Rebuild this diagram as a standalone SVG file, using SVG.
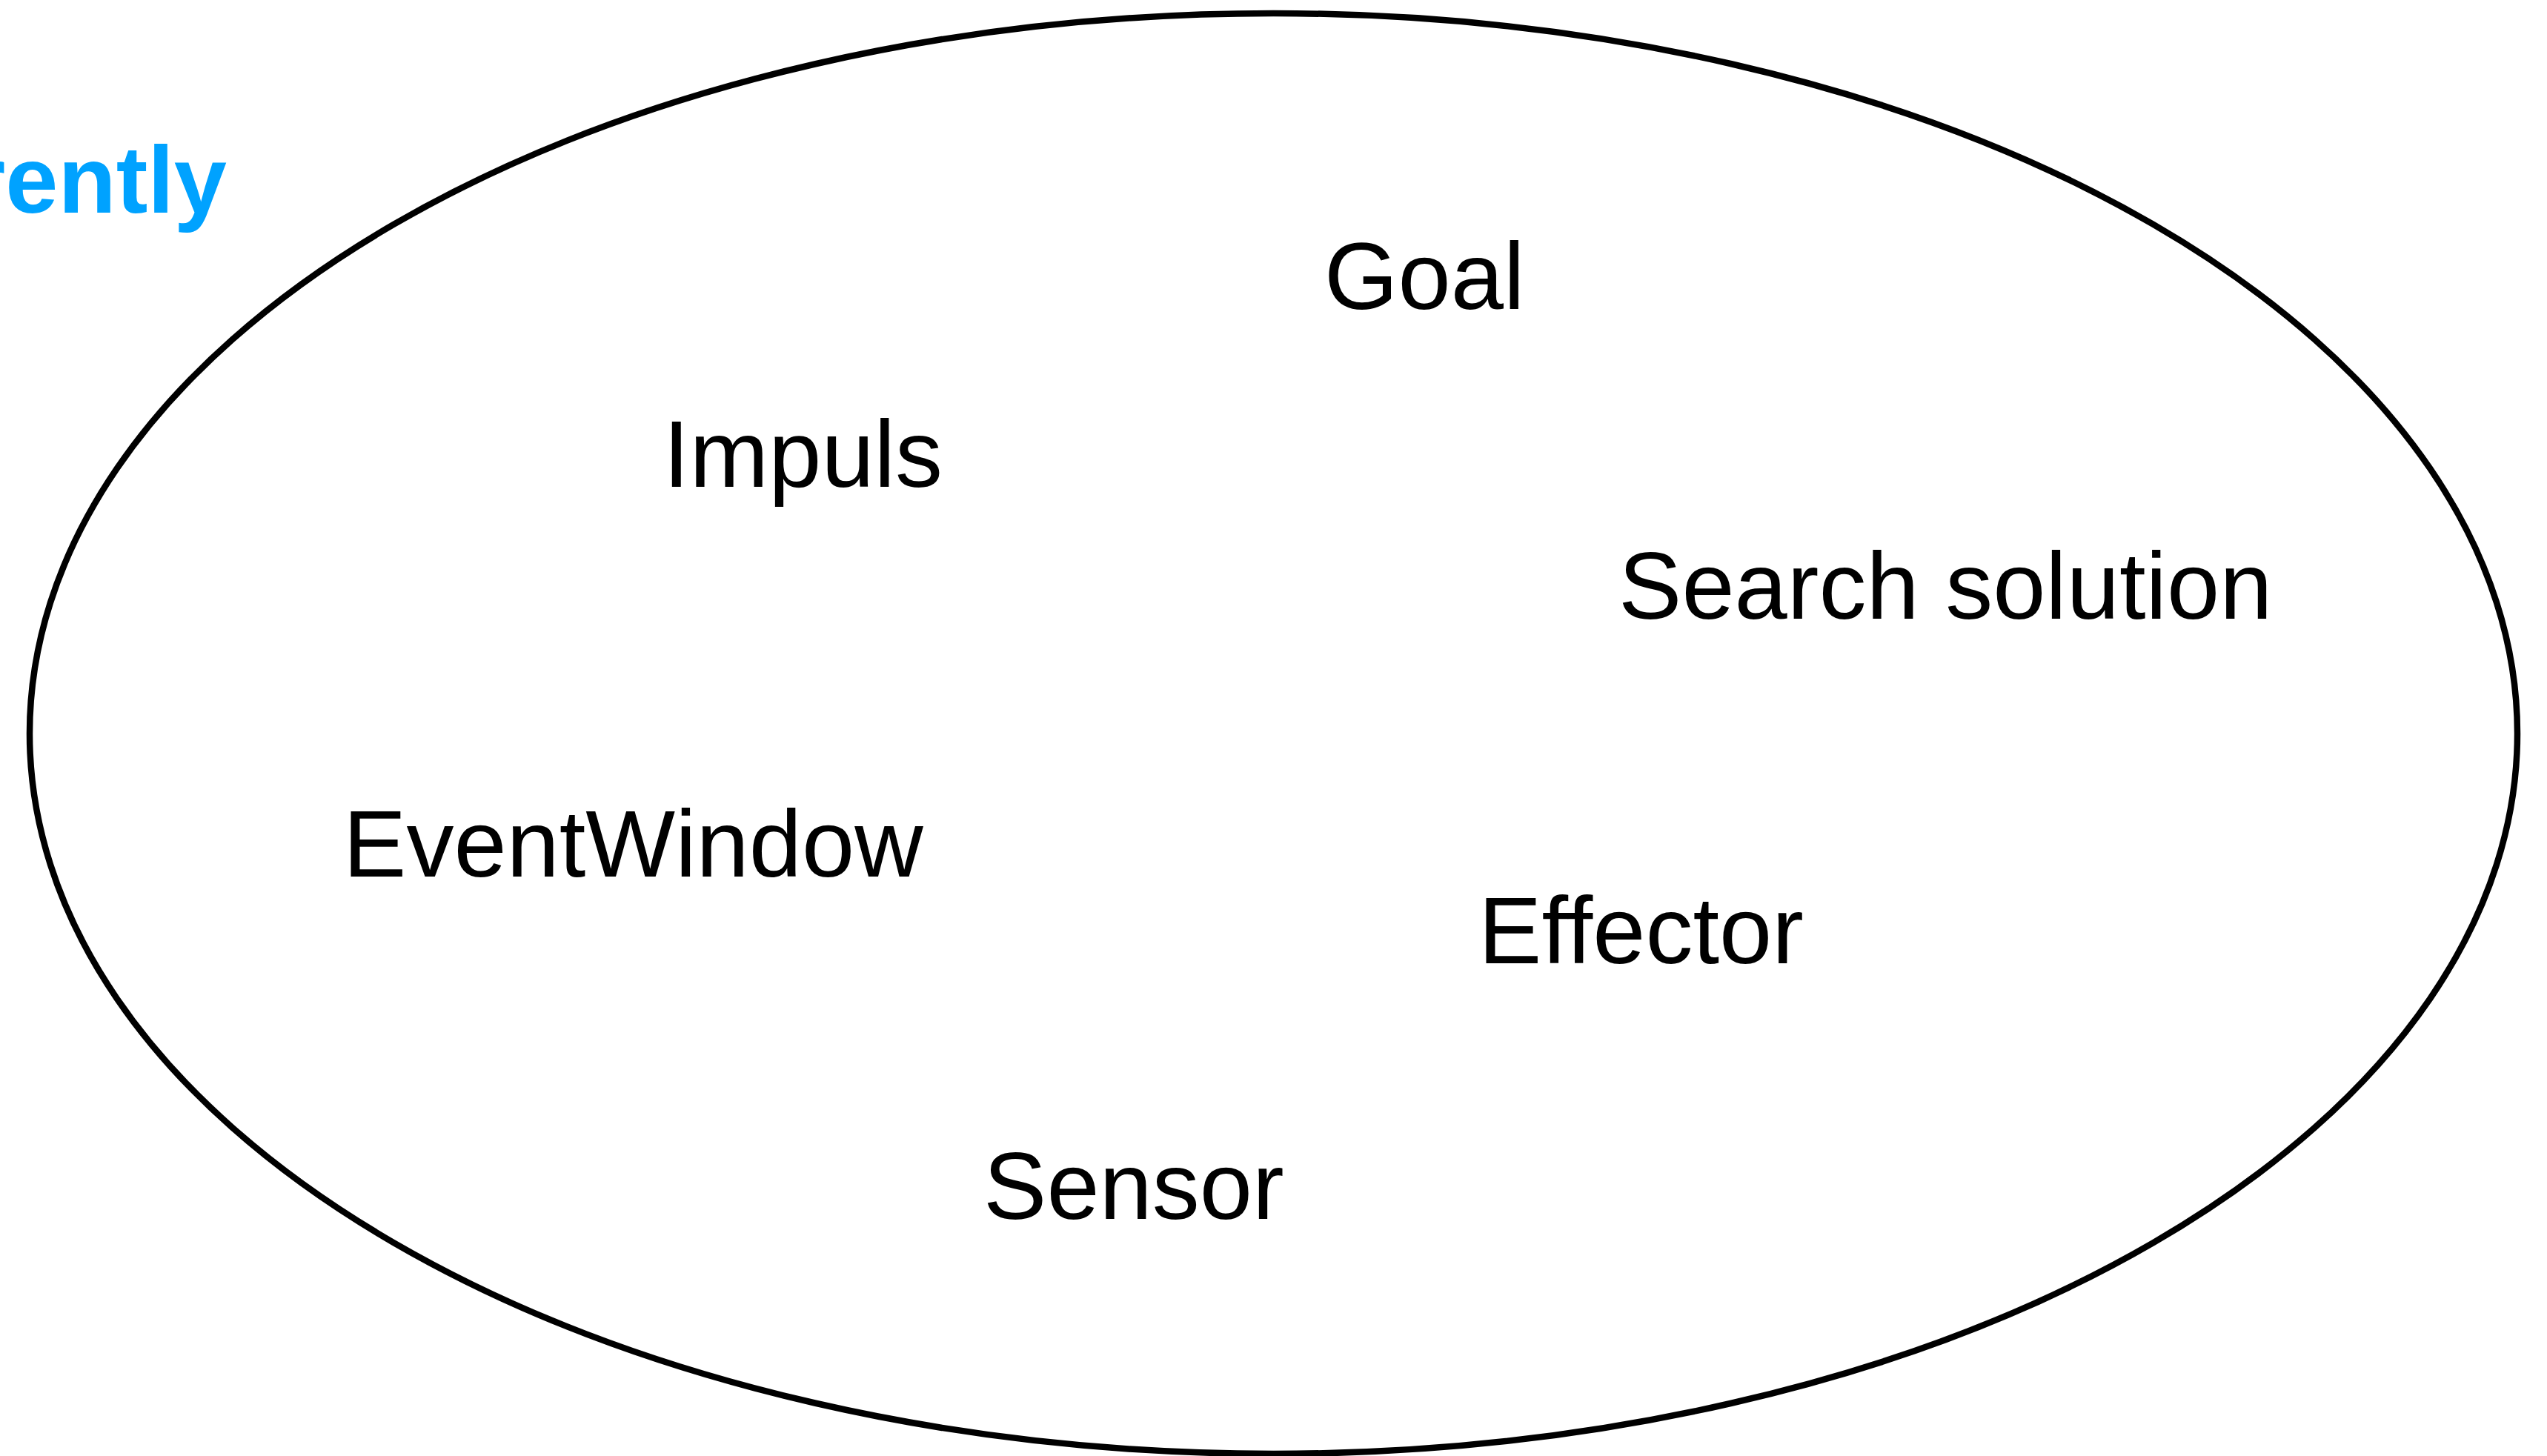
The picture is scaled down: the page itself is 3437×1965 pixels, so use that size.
<svg xmlns="http://www.w3.org/2000/svg" width="3437" height="1965" viewBox="0 0 3437 1965">
  <style>
    .label { font-family: "Liberation Sans", Arial, Helvetica, sans-serif; font-size: 128px; fill: #000000; }
    .title { font-family: "Liberation Sans", Arial, Helvetica, sans-serif; font-size: 128px; font-weight: bold; fill: #00A2FF; }
    .boundary { fill: none; stroke: #000000; stroke-width: 8.5; }
  </style>
  <rect x="0" y="0" width="3437" height="1965" fill="#ffffff"/>

  <!-- heading running off the left edge -->
  <text class="title" x="306" y="287" text-anchor="end">rently</text>

  <!-- system boundary -->
  <ellipse id="system" class="boundary" cx="1718.5" cy="990" rx="1678.5" ry="972"/>

  <g id="connectors"></g>

  <g id="goal"><text class="label" x="1787" y="417">Goal</text></g>
  <g id="impuls"><text class="label" x="895" y="657">Impuls</text></g>
  <g id="search-solution"><text class="label" x="2184" y="835">Search solution</text></g>
  <g id="event-window"><text class="label" x="463" y="1183">EventWindow</text></g>
  <g id="effector"><text class="label" x="1995" y="1300">Effector</text></g>
  <g id="sensor"><text class="label" x="1327" y="1645">Sensor</text></g>
</svg>
